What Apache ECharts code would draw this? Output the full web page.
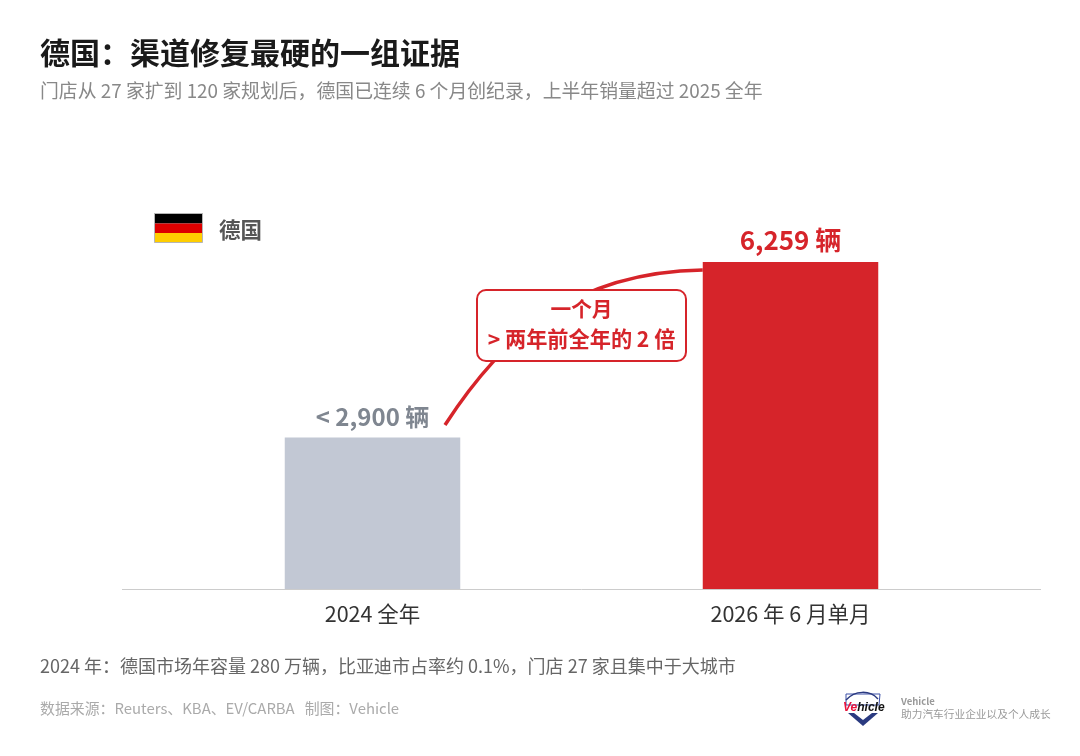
<!DOCTYPE html>
<html><head><meta charset="utf-8">
<style>html,body{margin:0;padding:0;background:#fff}#c{width:1080px;height:756px}</style>
<script src="https://cdn.jsdelivr.net/npm/echarts@6/dist/echarts.min.js"></script>
</head><body><div id="c"></div>
<script>
const categories = ['2024 全年', '2026 年 6 月单月'];
const values = [2900, 6259];
const valueLabels = ['< 2,900 辆', '6,259 辆'];
const barColors = ['#c2c8d4', '#d6242a'];
const labelColors = ['#7f8690', '#d6242a'];
const labelSizes = [24, 26];
const FONT = '"Noto Sans CJK SC","Noto Sans",sans-serif';
const RED = '#d6242a';

const chart = echarts.init(document.getElementById('c'), null, {renderer:'canvas'});
function txt(x,y,text,size,color,weight,extra){
  return {type:'text',x:x,y:y,silent:true,z:20,style:Object.assign({text:text,fontSize:size,fill:color,fontWeight:weight||'normal',fontFamily:FONT,textVerticalAlign:'middle',textAlign:'left'},extra||{})};
}
chart.setOption({
  backgroundColor:'#fff',
  animation:false,
  textStyle:{fontFamily:FONT},
  grid:{left:163.5,right:80.5,top:223.3,bottom:167,containLabel:false},
  xAxis:{type:'category',data:categories,axisLine:{show:false},axisTick:{show:false},
    axisLabel:{fontSize:21.5,color:'#333',margin:14,fontFamily:FONT}},
  yAxis:{type:'value',min:0,max:7000,show:false,splitLine:{show:false}},
  series:[{type:'bar',barWidth:175.5,
    data:values.map((v,i)=>({value:v,itemStyle:{color:barColors[i]},
      label:{color:labelColors[i],fontSize:labelSizes[i]}})),
    label:{show:true,position:'top',distance:9,fontWeight:'bold',fontFamily:FONT,
      formatter:p=>valueLabels[p.dataIndex]}
  }]
});
const p0 = chart.convertToPixel({seriesIndex:0},[1,values[1]]);
const barLeft = p0[0]-87.75;
const logo = [
  {type:'polygon',z:20,silent:true,shape:{points:[[846,694],[880,694],[879,705],[846,705]]},style:{fill:'none',stroke:'#3c50a8',lineWidth:1}},
  {type:'polygon',z:20,silent:true,shape:{points:[[848,713],[878,713],[863,726]]},style:{fill:'#2a3a80'}},
  {type:'polygon',z:21,silent:true,shape:{points:[[854,713],[872,713],[863,720]]},style:{fill:'#fff'}},
  {type:'bezierCurve',z:20,silent:true,shape:{x1:846,y1:700,x2:878,y2:699,cpx1:855,cpy1:690,cpx2:870,cpy2:690},style:{fill:'none',stroke:'#2a3a80',lineWidth:1.5}},
  {type:'text',z:22,silent:true,x:843,y:708,style:{rich:{a:{fill:'#e8123c',fontSize:12,fontWeight:'bold',fontStyle:'italic',fontFamily:'"Liberation Sans"'},b:{fill:'#111',fontSize:12,fontWeight:'bold',fontStyle:'italic',fontFamily:'"Liberation Sans"'}},text:'{a|Ve}{b|hicle}',textVerticalAlign:'middle'}}
];
chart.setOption({graphic:[
  txt(40,53,'德国：渠道修复最硬的一组证据',30,'#1a1a1a','bold'),
  txt(40,91,'门店从 27 家扩到 120 家规划后，德国已连续 6 个月创纪录，上半年销量超过 2025 全年',18.85,'#888888'),
  {type:'rect',z:20,silent:true,shape:{x:154.5,y:213.5,width:48,height:10},style:{fill:'#000'}},
  {type:'rect',z:20,silent:true,shape:{x:154.5,y:223.5,width:48,height:9.5},style:{fill:'#dd0000'}},
  {type:'rect',z:20,silent:true,shape:{x:154.5,y:233,width:48,height:9.5},style:{fill:'#ffce00'}},
  {type:'rect',z:21,silent:true,shape:{x:154.5,y:213.5,width:48,height:29},style:{fill:'none',stroke:'#b5b5b5',lineWidth:1}},
  txt(219,230,'德国',21.5,'#555555','bold'),
  {type:'line',z:5,silent:true,shape:{x1:122,y1:589.5,x2:1041,y2:589.5},style:{stroke:'#cccccc',lineWidth:1}},
  {type:'bezierCurve',z:6,silent:true,shape:{x1:445,y1:425,cpx1:500,cpy1:340,cpx2:570,cpy2:272,x2:barLeft,y2:270},style:{fill:'none',stroke:RED,lineWidth:3.5}},
  {type:'rect',z:10,silent:true,shape:{x:477,y:290,width:209,height:71,r:9},style:{fill:'#fff',stroke:RED,lineWidth:2}},
  txt(581.5,309.5,'一个月',20.7,RED,'bold',{textAlign:'center'}),
  txt(581.5,338.5,'> 两年前全年的 2 倍',21.2,RED,'bold',{textAlign:'center'}),
  txt(40,666,'2024 年：德国市场年容量 280 万辆，比亚迪市占率约 0.1%，门店 27 家且集中于大城市',18,'#666666'),
  txt(40,708,'数据来源：Reuters、KBA、EV/CARBA   制图：Vehicle',14.9,'#aaaaaa'),
  txt(901,701,'Vehicle',9.5,'#999999','bold'),
  txt(901,714,'助力汽车行业企业以及个人成长',10.7,'#999999')
].concat(logo)});
</script></body></html>
